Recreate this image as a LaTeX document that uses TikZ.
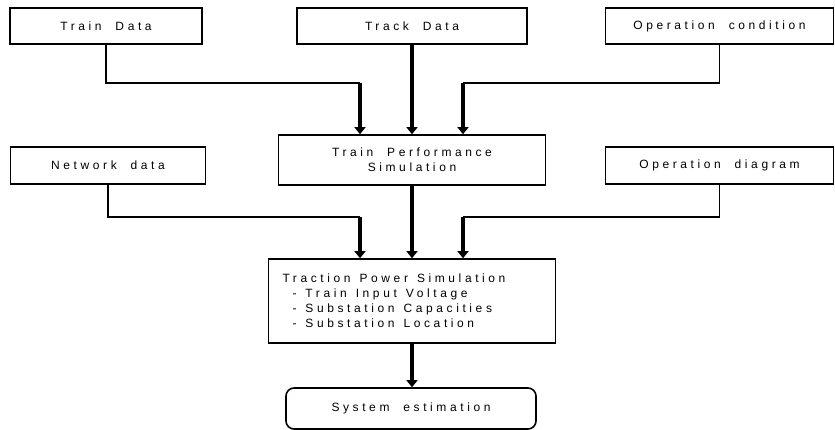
\documentclass[tikz,border=0pt]{standalone}
\usepackage{fontspec}
\newfontfamily\spaced{Liberation Sans}[LetterSpace=30, WordSpace=2]
\usetikzlibrary{arrows.meta}

\begin{document}
\begin{tikzpicture}[x=1pt, y=-1pt,
  every node/.style={font=\spaced\fontsize{12}{15}\selectfont},
  box/.style={draw, line width=1.6pt, align=center, inner sep=0pt},
  feed/.style={line width=1.6pt},
  flow/.style={line width=3.4pt, -{Triangle[width=11pt,length=7pt]}}]
  \useasboundingbox (0,0) rectangle (835,430);
  \node[box, minimum width=192pt, minimum height=36pt] (train) at (106,26) {Train Data};
  \node[box, minimum width=230pt, minimum height=36pt] (track) at (412,26) {Track Data};
  \node[box, minimum width=228pt, minimum height=36pt] (opcond) at (719.5,26) {Operation condition};
  \node[box, minimum width=267pt, minimum height=50pt] (tps) at (412,160) {Train Performance\\Simulation};
  \node[box, minimum width=195pt, minimum height=37pt] (network) at (108,165.5) {Network data};
  \node[box, minimum width=228pt, minimum height=37pt] (opdiag) at (719.5,165.5) {Operation diagram};
  \node[box, align=left, inner xsep=14pt, text width=259pt, minimum height=84pt] (trps) at (412,301)
    {\spaceskip=0.75em\relax
     Traction Power Simulation\\
     \hspace*{10pt}- Train Input Voltage\\
     \hspace*{10pt}- Substation Capacities\\
     \hspace*{10pt}- Substation Location};
  \node[box, rounded corners=8pt, minimum width=250pt, minimum height=41pt] (sysest) at (411,408.5) {System estimation};
  % joints of the side inputs
  \coordinate (j1) at (360,83);
  \coordinate (j2) at (463,83);
  \coordinate (j3) at (360,217);
  \coordinate (j4) at (463,217);
  \draw[feed] (train.south) |- (j1);
  \draw[feed] (opcond.south) |- (j2);
  \draw[flow] (j1) -- (j1 |- tps.north);
  \draw[flow] (track) -- (tps);
  \draw[flow] (j2) -- (j2 |- tps.north);
  \draw[feed] (network.south) |- (j3);
  \draw[feed] (opdiag.south) |- (j4);
  \draw[flow] (j3) -- (j3 |- trps.north);
  \draw[flow] (tps) -- (trps);
  \draw[flow] (j4) -- (j4 |- trps.north);
  \draw[flow] (trps.south) -- (trps.south |- sysest.north);
\end{tikzpicture}
\end{document}
